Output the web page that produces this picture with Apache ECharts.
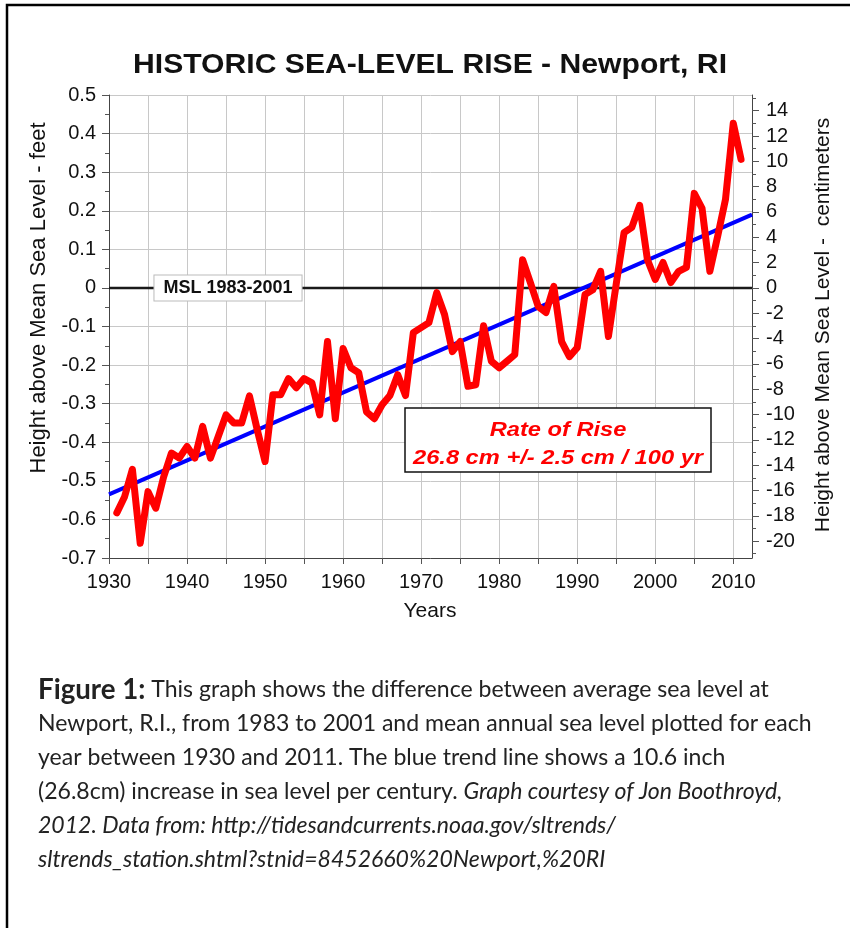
<!DOCTYPE html>
<html><head><meta charset="utf-8">
<script src="https://cdn.jsdelivr.net/npm/echarts@6/dist/echarts.min.js"></script>
<style>html,body{margin:0;padding:0;background:#fff}#c{width:850px;height:928px}</style>
</head><body><div id="c"></div>
<script>
// ---- data ----
const years = [1931,1932,1933,1934,1935,1936,1937,1938,1939,1940,
  1941,1942,1943,1944,1945,1946,1947,1948,1949,1950,
  1951,1952,1953,1954,1955,1956,1957,1958,1959,1960,
  1961,1962,1963,1964,1965,1966,1967,1968,1969,1970,
  1971,1972,1973,1974,1975,1976,1977,1978,1979,1980,
  1981,1982,1983,1984,1985,1986,1987,1988,1989,1990,
  1991,1992,1993,1994,1995,1996,1997,1998,1999,2000,
  2001,2002,2003,2004,2005,2006,2007,2008,2009,2010,2011];
const seaLevelFt = [-0.583,-0.541,-0.470,-0.662,-0.528,-0.571,-0.490,-0.428,-0.441,-0.411,
  -0.441,-0.359,-0.441,-0.385,-0.329,-0.350,-0.350,-0.280,-0.368,-0.450,
  -0.277,-0.277,-0.235,-0.259,-0.235,-0.246,-0.329,-0.139,-0.339,-0.157,
  -0.207,-0.220,-0.321,-0.339,-0.303,-0.279,-0.225,-0.279,-0.116,-0.103,
  -0.090,-0.012,-0.069,-0.165,-0.139,-0.255,-0.251,-0.098,-0.190,-0.207,
  -0.190,-0.173,0.073,0.014,-0.048,-0.064,0.004,-0.139,-0.178,-0.155,
  -0.017,-0.005,0.043,-0.126,0.010,0.143,0.157,0.214,0.073,0.022,
  0.066,0.014,0.043,0.053,0.245,0.206,0.043,0.134,0.229,0.427,0.333];
const trendYears = [1930, 2012.4];
const trendFt = [-0.535, 0.19];
const mslYears = [1930, 2012.4];
const mslFt = [0, 0];
const xLabelYears = [1930,1940,1950,1960,1970,1980,1990,2000,2010];
const cmMajorTicks = [-20,-18,-16,-14,-12,-10,-8,-6,-4,-2,0,2,4,6,8,10,12,14];
const cmMinorTicks = [-21,-19,-17,-15,-13,-11,-9,-7,-5,-3,-1,1,3,5,7,9,11,13,15];

const titleText = 'HISTORIC SEA-LEVEL RISE - Newport, RI';
const leftAxisTitle = 'Height above Mean Sea Level - feet';
const rightAxisTitle = 'Height above Mean Sea Level -  centimeters';
const xAxisTitle = 'Years';
const mslLabel = 'MSL 1983-2001';
const rateLine1 = 'Rate of Rise';
const rateLine2 = '26.8 cm +/- 2.5 cm / 100 yr';
const captionLines = [
  '{b|Figure 1:} This graph shows the difference between average sea level at',
  'Newport, R.I., from 1983 to 2001 and mean annual sea level plotted for each',
  'year between 1930 and 2011. The blue trend line shows a 10.6 inch',
  '(26.8cm) increase in sea level per century. {i|Graph courtesy of Jon Boothroyd,}',
  '{i|2012. Data from: http://tidesandcurrents.noaa.gov/sltrends/}',
  '{i|sltrends_station.shtml?stnid=8452660%20Newport,%20RI}'
];

// ---- helpers ----
const FF = '"Liberation Sans", Arial, sans-serif';
const CF = 'Lato, "Liberation Sans", sans-serif';
const mctx = document.createElement('canvas').getContext('2d');
function measure(text, font){ mctx.font = font; return mctx.measureText(text).width; }

const titleSize = 28;
const titleScale = 594 / measure(titleText, 'bold ' + titleSize + 'px ' + FF);
const rateSize = 21;
const rateScale = 290 / measure(rateLine2, 'italic bold ' + rateSize + 'px ' + FF);

const capSize = 20 * 774 / measure(captionLines[1], '20px ' + CF);

const chart = echarts.init(document.getElementById('c'), null, {renderer:'canvas'});

const graphics = [
  {type:'rect', shape:{x:7, y:5, width:1000, height:1000}, style:{fill:'none', stroke:'#000', lineWidth:2.5}, z:100},
  {type:'text', x:133, y:65, scaleX:titleScale, style:{text:titleText, font:'bold ' + titleSize + 'px ' + FF, fill:'#111', verticalAlign:'middle', align:'left'}, z:100},
  {type:'text', x:39, y:298, rotation:Math.PI/2, style:{text:leftAxisTitle, font:'22px ' + FF, fill:'#111', align:'center', verticalAlign:'middle'}, z:100},
  {type:'text', x:823, y:325, rotation:Math.PI/2, style:{text:rightAxisTitle, font:'21px ' + FF, fill:'#111', align:'center', verticalAlign:'middle'}, z:100},
  {type:'text', x:430, y:611, style:{text:xAxisTitle, font:'21px ' + FF, fill:'#111', align:'center', verticalAlign:'middle'}, z:100},
  {type:'text', x:228, y:288, style:{text:mslLabel, font:'bold 18px ' + FF, fill:'#111', align:'center', verticalAlign:'middle',
     backgroundColor:'#fff', borderColor:'#bbb', borderWidth:1, padding:[4,9,3,9]}, z:100},
  {type:'rect', shape:{x:405, y:408, width:306, height:64}, style:{fill:'#fff', stroke:'#111', lineWidth:1.5}, z:100},
  {type:'text', x:558, y:430, scaleX:rateScale, style:{text:rateLine1, font:'italic bold ' + rateSize + 'px ' + FF, fill:'#ff0000', align:'center', verticalAlign:'middle'}, z:101},
  {type:'text', x:558, y:458, scaleX:rateScale, style:{text:rateLine2, font:'italic bold ' + rateSize + 'px ' + FF, fill:'#ff0000', align:'center', verticalAlign:'middle'}, z:101}
];
captionLines.forEach((t, i) => {
  graphics.push({type:'text', x:38, y:690 + 34*i, style:{text:t, fontFamily:CF, fontSize:capSize, fill:'#222', align:'left', verticalAlign:'middle',
    rich:{b:{fontWeight:'bold', fontSize:capSize*1.2, fontFamily:CF, fill:'#222'}, i:{fontStyle:'italic', fontFamily:CF, fontSize:capSize, fill:'#222'}}}, z:100});
});

const axisFont = {fontFamily:FF, fontSize:20, color:'#111'};

chart.setOption({
  animation:false,
  backgroundColor:'#fff',
  grid:{left:109, right:98, top:95, bottom:370, containLabel:false},
  xAxis:{type:'value', min:1930, max:2012.4, interval:5,
    axisLine:{show:true, onZero:false, lineStyle:{color:'#444', width:1}},
    axisTick:{show:true, length:6, lineStyle:{color:'#555'}},
    axisLabel:Object.assign({margin:14, showMaxLabel:false, formatter:v => xLabelYears.indexOf(v) >= 0 ? String(v) : ''}, axisFont),
    splitLine:{show:true, lineStyle:{color:'#c8c8c8', width:1}}},
  yAxis:[
    {type:'value', position:'left', min:-0.7, max:0.5, interval:0.1,
     axisLine:{show:true, onZero:false, lineStyle:{color:'#444', width:1}},
     axisTick:{show:true, length:7, lineStyle:{color:'#555'}},
     minorTick:{show:true, splitNumber:2, length:4, lineStyle:{color:'#555'}},
     axisLabel:Object.assign({margin:13, formatter:v => String(Math.round(v*10)/10)}, axisFont),
     splitLine:{show:true, lineStyle:{color:'#c8c8c8', width:1}}},
    {type:'value', position:'right', min:-21.336, max:15.24,
     axisLine:{show:true, onZero:false, lineStyle:{color:'#444', width:1}},
     axisTick:{show:true, length:7, customValues:cmMajorTicks, lineStyle:{color:'#555'}},
     axisLabel:Object.assign({margin:14, customValues:cmMajorTicks}, axisFont),
     splitLine:{show:false}},
    {type:'value', position:'right', min:-21.336, max:15.24,
     axisLine:{show:false, onZero:false},
     axisTick:{show:true, length:4, customValues:cmMinorTicks, lineStyle:{color:'#555'}},
     axisLabel:{show:false},
     splitLine:{show:false}}
  ],
  series:[
    {type:'line', name:'MSL', data:mslYears.map((y,i)=>[y, mslFt[i]]), symbol:'none', silent:true,
     lineStyle:{color:'#1a1a1a', width:2.5}, z:3},
    {type:'line', name:'Trend', data:trendYears.map((y,i)=>[y, trendFt[i]]), symbol:'none', silent:true,
     lineStyle:{color:'#0000ff', width:4}, z:4},
    {type:'line', name:'Sea level', data:years.map((y,i)=>[y, seaLevelFt[i]]), symbol:'none', silent:true,
     lineStyle:{color:'#ff0000', width:7, cap:'round', join:'round'}, z:5}
  ],
  graphic:graphics
});
</script></body></html>
